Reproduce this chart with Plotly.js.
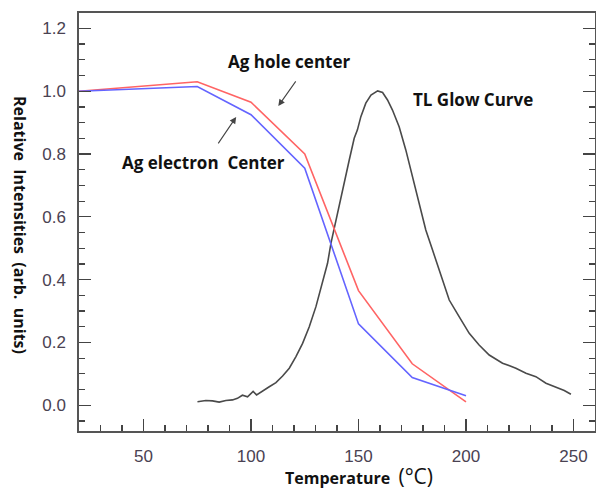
<!DOCTYPE html>
<html>
<head>
<meta charset="utf-8">
<script src="https://cdn.plot.ly/plotly-3.0.1.min.js"></script>
<style>html,body{margin:0;padding:0;background:#fff;}#chart{width:596px;height:491px;}</style>
</head>
<body>
<div id="chart"></div>
<script>
// Ag hole center (red)
const holeT = [20, 75, 100, 125, 150, 175, 200];
const holeI = [1.0, 1.03, 0.965, 0.80, 0.365, 0.132, 0.011];
// Ag electron center (blue)
const elecT = [20, 75, 100, 125, 150, 175, 200];
const elecI = [1.0, 1.015, 0.925, 0.755, 0.259, 0.088, 0.030];
// TL glow curve (black)
const glowT = [75.1, 79.0, 82.1, 85.2, 88.3, 91.4, 93.7, 96.0, 98.4, 101.0, 102.6, 105.3, 108.5, 111.6, 114.7, 117.8, 120.9, 124.0, 127.1, 130.2, 133.3, 135.6, 137.2, 139.5, 142.6, 145.7, 148.0, 149.5, 151.1, 153.4, 155.8, 158.9, 161.2, 163.5, 165.8, 168.9, 172.0, 175.1, 178.2, 181.3, 184.4, 189.1, 192.2, 196.8, 201.5, 206.1, 210.8, 217.0, 223.2, 227.9, 232.5, 237.2, 241.8, 245.7, 248.8];
const glowI = [0.011, 0.015, 0.014, 0.010, 0.015, 0.017, 0.022, 0.032, 0.027, 0.044, 0.033, 0.046, 0.059, 0.072, 0.093, 0.118, 0.155, 0.197, 0.250, 0.314, 0.389, 0.452, 0.516, 0.590, 0.686, 0.781, 0.850, 0.877, 0.919, 0.962, 0.988, 1.001, 0.996, 0.972, 0.940, 0.887, 0.813, 0.728, 0.643, 0.558, 0.495, 0.399, 0.335, 0.282, 0.229, 0.192, 0.160, 0.134, 0.118, 0.102, 0.091, 0.070, 0.057, 0.047, 0.035];
// Labels
const labelHole = "Ag hole center";
const labelElec = "Ag electron&nbsp; Center";
const labelGlow = "TL Glow Curve";
const xTitle = "<b>Temperature</b>&nbsp; <span style='font-size:21px'>(°C)</span>";
const yTitle = "Relative&nbsp; Intensities&nbsp; (arb.&nbsp; units)";

const traces = [
  {x: glowT, y: glowI, mode: 'lines', line: {color: '#4a4a4a', width: 1.6}, hoverinfo: 'skip'},
  {x: holeT, y: holeI, mode: 'lines', line: {color: '#ff6464', width: 1.6}, hoverinfo: 'skip'},
  {x: elecT, y: elecI, mode: 'lines', line: {color: '#6464ff', width: 1.6}, hoverinfo: 'skip'}
];

const tickFont = {family: 'Liberation Sans, Arial, sans-serif', size: 17, color: '#4a4252'};
const lblFont = {family: 'Open Sans, sans-serif', size: 17, color: '#111'};

const pw = 596 - 79 - 1, ph = 491 - 13 - 60;
const layout = {
  width: 596, height: 491,
  margin: {l: 79, r: 1, t: 13, b: 60},
  paper_bgcolor: '#fff', plot_bgcolor: '#fff',
  showlegend: false,
  xaxis: {
    range: [20, 260], tick0: 0, dtick: 50, ticks: 'inside', ticklen: 12, tickwidth: 1.3, tickcolor: '#444',
    minor: {dtick: 10, ticks: 'inside', ticklen: 6, tickwidth: 1.2, tickcolor: '#444'},
    showgrid: false, zeroline: false, showline: true, linecolor: '#555', linewidth: 1.6, mirror: true,
    tickfont: tickFont, ticklabelstandoff: 9
  },
  yaxis: {
    range: [-0.082, 1.249], tick0: 0, dtick: 0.2, tickformat: '.1f', ticks: 'inside', ticklen: 12, tickwidth: 1.3, tickcolor: '#444',
    minor: {dtick: 0.05, ticks: 'inside', ticklen: 6, tickwidth: 1.2, tickcolor: '#444'},
    showgrid: false, zeroline: false, showline: true, linecolor: '#555', linewidth: 1.6, mirror: 'ticks',
    tickfont: tickFont, ticklabelstandoff: 8
  },
  annotations: [
    {x: 117.8, y: 1.093, xref: 'x', yref: 'y', text: '<b>' + labelHole + '</b>', showarrow: false, font: lblFont},
    {x: 77.8, y: 0.772, xref: 'x', yref: 'y', text: '<b>' + labelElec + '</b>', showarrow: false, font: lblFont},
    {x: 203.2, y: 0.972, xref: 'x', yref: 'y', text: '<b>' + labelGlow + '</b>', showarrow: false, font: lblFont},
    {x: 112.7, y: 0.953, ax: 121.3, ay: 1.036, xref: 'x', yref: 'y', axref: 'x', ayref: 'y', text: '', showarrow: true,
     arrowhead: 2, arrowsize: 1.2, arrowwidth: 1.1, arrowcolor: '#444'},
    {x: 93.1, y: 0.918, ax: 84.3, ay: 0.829, xref: 'x', yref: 'y', axref: 'x', ayref: 'y', text: '', showarrow: true,
     arrowhead: 2, arrowsize: 1.2, arrowwidth: 1.1, arrowcolor: '#444'},
    {x: (359 - 79) / pw, y: (491 - 60 - 476) / ph, xref: 'paper', yref: 'paper', xanchor: 'center', yanchor: 'middle',
     text: xTitle, showarrow: false, font: {family: 'Open Sans, sans-serif', size: 16, color: '#111'}},
    {x: (20 - 79) / pw, y: (491 - 60 - 225) / ph, xref: 'paper', yref: 'paper', xanchor: 'center', yanchor: 'middle',
     text: '<b>' + yTitle + '</b>', showarrow: false, textangle: 90,
     font: {family: 'Open Sans, sans-serif', size: 16, color: '#111'}}
  ]
};

Plotly.newPlot('chart', traces, layout, {staticPlot: true, displayModeBar: false});
</script>
</body>
</html>
